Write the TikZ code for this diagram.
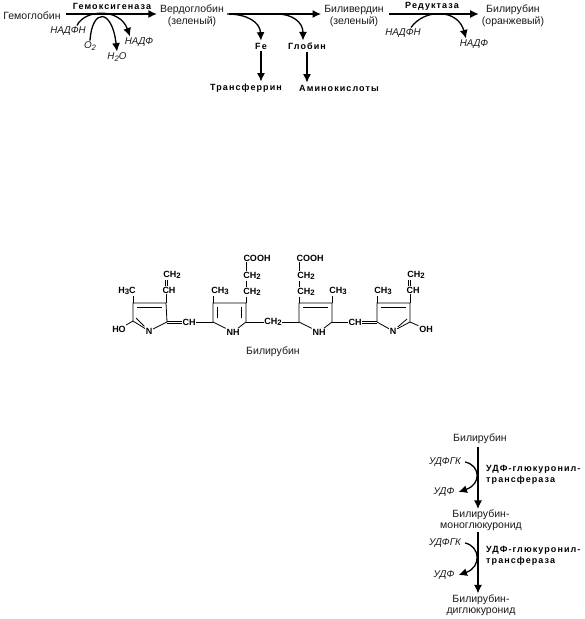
\documentclass[tikz,border=0pt]{standalone}
\usepackage{fontspec}
\setmainfont{Liberation Sans}
\newfontfamily\enzfont[LetterSpace=12]{Liberation Sans Bold}
\usepackage{tikz}
\usetikzlibrary{arrows.meta, positioning}
\definecolor{inkgrey}{RGB}{25, 25, 25}
\newcommand{\lowidx}[1]{\raisebox{-0.3ex}{\fontsize{7.8}{8}\selectfont #1}}

\begin{document}
\begin{tikzpicture}[
    x=1pt, y=-1pt,
    lbl/.style={inner sep=3pt, align=center, text=inkgrey, font=\fontsize{10.5}{12}\selectfont},
    tight/.style={lbl, inner sep=1pt, font=\fontsize{10.5}{10.8}\selectfont},
    cof/.style={inner sep=1pt, text=inkgrey, font=\fontsize{9.8}{11}\selectfont\itshape},
    enz/.style={inner sep=2pt, align=left, text=black, font=\fontsize{9}{11}\enzfont},
    chem/.style={inner sep=0.6pt, text=black, font=\fontsize{9}{9}\selectfont\bfseries},
    arrow/.style={-{Latex[length=8.5pt,width=8pt]}, line width=1.4pt, color=black},
    curve/.style={-{Latex[length=8.5pt,width=8pt]}, line width=1.3pt, color=black},
    bond/.style={line width=0.8pt, color=black},
    innerbond/.style={bond, shorten <=4pt, shorten >=4pt},
]
    \useasboundingbox (0,0) rectangle (585,619);

    % top pathway
    \node[lbl] (hemoglobin) at (32,16) {Гемоглобин};
    \node[lbl] (verdoglobin) at (192,16) {Вердоглобин\\(зеленый)};
    \node[lbl] (biliverdin) at (354,16) {Биливердин\\(зеленый)};
    \node[lbl] (bilirubinTop) at (513,16) {Билирубин\\(оранжевый)};
    \node[enz] (oxygenase) at (112,6) {Гемоксигеназа};
    \node[enz] (reductase) at (432,6) {Редуктаза};
    \node[cof] (nadphA) at (68,31) {НАДФН};
    \node[cof] (oxygen) at (90,46) {O\lowidx{2}};
    \node[cof] (water) at (117,57) {H\lowidx{2}O};
    \node[cof] (nadpA) at (139,42) {НАДФ};
    \node[cof] (nadphB) at (403,33) {НАДФН};
    \node[cof] (nadpB) at (474,44) {НАДФ};
    \node[enz] (iron) at (261,46) {Fe};
    \node[enz] (globin) at (307,46) {Глобин};
    \node[enz] (transferrin) at (246,88) {Трансферрин};
    \node[enz] (aminoacids) at (339,88) {Аминокислоты};

    \draw[arrow, shorten <=2pt] ([yshift=2pt]hemoglobin.east) -- ([yshift=2pt]verdoglobin.west);
    \draw[arrow, shorten <=2pt] ([yshift=2pt]verdoglobin.east) -- ([yshift=2pt]biliverdin.west);
    \draw[arrow, shorten <=2pt] ([yshift=2pt]biliverdin.east) -- ([yshift=2pt]bilirubinTop.west);
    \draw[curve] ([xshift=9pt]nadphA.north) .. controls (85,9) and (120,8) .. ([xshift=-9pt]nadpA.north);
    \draw[curve] (oxygen.north) .. controls (92,8) and (112,8) .. (water.north);
    \draw[curve] ([xshift=8pt]nadphB.north) .. controls (425,8) and (458,9) .. ([xshift=-8pt]nadpB.north);
    \draw[curve] ([yshift=2pt]verdoglobin.east) .. controls (247,14) and (260,22) .. (iron.north);
    \draw[curve] ([yshift=2pt,xshift=50pt]verdoglobin.east) .. controls (292,14) and (303,22) .. ([xshift=-4pt]globin.north);
    \draw[arrow] (iron.south) -- (iron.south |- transferrin.north);
    \draw[arrow] (globin.south) -- (globin.south |- aminoacids.north);

    % bilirubin structure
    \coordinate (aTL) at (133,303); \coordinate (aTR) at (166,303);
    \coordinate (aR) at (167,322);  \coordinate (aL) at (133,321);
    \coordinate (bTL) at (213,303); \coordinate (bTR) at (246,303);
    \coordinate (bR) at (246,322);  \coordinate (bL) at (213,322);
    \coordinate (cTL) at (299,303); \coordinate (cTR) at (332,303);
    \coordinate (cR) at (332,322);  \coordinate (cL) at (299,322);
    \coordinate (dTL) at (377,303); \coordinate (dTR) at (410,303);
    \coordinate (dR) at (410,322);  \coordinate (dL) at (377,322);

    \node[chem] (hoA) at (119,329) {HO};
    \node[chem] (nA) at (149,331) {N};
    \node[chem] (methylA) at (127,291) {H\lowidx{3}C};
    \node[chem] (vinylA) at (169,290) {CH};
    \node[chem] (vinylB) at (172,275) {CH\lowidx{2}};
    \node[chem] (bridgeA) at (189,322) {CH};
    \node[chem] (nhB) at (233,332) {NH};
    \node[chem] (methylB) at (220,291) {CH\lowidx{3}};
    \node[chem] (chainA) at (252,292) {CH\lowidx{2}};
    \node[chem] (chainB) at (252,276) {CH\lowidx{2}};
    \node[chem] (acidA) at (257,258) {COOH};
    \node[chem] (bridgeB) at (273,322) {CH\lowidx{2}};
    \node[chem] (nhC) at (319,332) {NH};
    \node[chem] (chainC) at (306,292) {CH\lowidx{2}};
    \node[chem] (chainD) at (306,276) {CH\lowidx{2}};
    \node[chem] (acidB) at (310,258) {COOH};
    \node[chem] (methylC) at (338,291) {CH\lowidx{3}};
    \node[chem] (bridgeC) at (355,322) {CH};
    \node[chem] (nD) at (393,331) {N};
    \node[chem] (hoD) at (426,329) {OH};
    \node[chem] (methylD) at (383,291) {CH\lowidx{3}};
    \node[chem] (vinylC) at (413,290) {CH};
    \node[chem] (vinylD) at (416,275) {CH\lowidx{2}};
    \node[lbl] (bilirubinName) at (273,352) {Билирубин};

    % rings
    \draw[bond] (aL) -- (aTL) -- (aTR) -- (aR) -- (nA) -- (aL) -- (hoA);
    \draw[bond] (bL) -- (bTL) -- (bTR) -- (bR) -- (nhB) -- (bL);
    \draw[bond] (cL) -- (cTL) -- (cTR) -- (cR) -- (nhC) -- (cL);
    \draw[bond] (dL) -- (dTL) -- (dTR) -- (dR) -- (nD) -- (dL);
    \draw[bond] (dR) -- (hoD);
    \draw[innerbond] ([yshift=-4pt]aTL) -- ([yshift=-4pt]aTR);
    \draw[innerbond] ([yshift=-4pt]cTL) -- ([yshift=-4pt]cTR);
    \draw[innerbond] ([yshift=-4pt]dTL) -- ([yshift=-4pt]dTR);
    \draw[innerbond] ([xshift=4.5pt]bTL) -- ([xshift=4.5pt]bL);
    \draw[innerbond] ([xshift=-4.5pt]bTR) -- ([xshift=-4.5pt]bR);
    \draw[bond, shorten >=1pt] ([xshift=3pt,yshift=3pt]aL) -- ([xshift=-1pt,yshift=5pt]nA);
    \draw[bond, shorten >=1pt] ([xshift=-3pt,yshift=3pt]dR) -- ([xshift=1pt,yshift=5pt]nD);

    % substituents
    \draw[bond] (aTL) -- (aTL |- methylA.south);
    \draw[bond] (aTR) -- (aTR |- vinylA.south);
    \draw[bond] ([xshift=-4pt]vinylA.north) -- ([xshift=-4pt]vinylA.north |- vinylB.south);
    \draw[bond] ([xshift=-1.7pt]vinylA.north) -- ([xshift=-1.7pt]vinylA.north |- vinylB.south);
    \draw[bond] ([yshift=1.1pt]aR) -- ([yshift=1.1pt]bridgeA.west |- aR);
    \draw[bond] ([yshift=-1.1pt]aR) -- ([yshift=-1.1pt]bridgeA.west |- aR);
    \draw[bond] (bridgeA) -- (bL);
    \draw[bond] (bTL) -- (bTL |- methylB.south);
    \draw[bond] (bTR) -- (bTR |- chainA.south);
    \draw[bond] (bTR |- chainA.north) -- (bTR |- chainB.south);
    \draw[bond] (bTR |- chainB.north) -- (bTR |- acidA.south);
    \draw[bond] (bR) -- (bridgeB);
    \draw[bond] (bridgeB) -- (cL);
    \draw[bond] (cTL) -- (cTL |- chainC.south);
    \draw[bond] (cTL |- chainC.north) -- (cTL |- chainD.south);
    \draw[bond] (cTL |- chainD.north) -- (cTL |- acidB.south);
    \draw[bond] (cTR) -- (cTR |- methylC.south);
    \draw[bond] (cR) -- (bridgeC);
    \draw[bond] ([yshift=1.1pt]bridgeC.east |- dL) -- ([yshift=1.1pt]dL);
    \draw[bond] ([yshift=-1.1pt]bridgeC.east |- dL) -- ([yshift=-1.1pt]dL);
    \draw[bond] (dTL) -- (dTL |- methylD.south);
    \draw[bond] (dTR) -- (dTR |- vinylC.south);
    \draw[bond] ([xshift=-4.7pt]vinylC.north) -- ([xshift=-4.7pt]vinylC.north |- vinylD.south);
    \draw[bond] ([xshift=-2.3pt]vinylC.north) -- ([xshift=-2.3pt]vinylC.north |- vinylD.south);

    % conjugation
    \node[lbl] (bilirubinLow) at (480,439) {Билирубин};
    \node[tight] (mono) at (481,520.5) {Билирубин-\\моноглюкуронид};
    \node[tight] (di) at (481,605) {Билирубин-\\диглюкуронид};
    \node[cof] (udpgkA) at (445,462) {УДФГК};
    \node[cof] (udpA) at (444,492) {УДФ};
    \node[cof] (udpgkB) at (445,543) {УДФГК};
    \node[cof] (udpB) at (444,575) {УДФ};
    \node[enz, anchor=west] (transferaseA) at (484,474.5) {УДФ-глюкуронил-\\трансфераза};
    \node[enz, anchor=west] (transferaseB) at (484,555.5) {УДФ-глюкуронил-\\трансфераза};

    \draw[arrow] ([xshift=-2pt]bilirubinLow.south) -- ([xshift=-3pt]mono.north);
    \draw[arrow] ([xshift=-3pt]mono.south) -- ([xshift=-3pt]di.north);
    \draw[curve] ([xshift=3pt]udpgkA.east) .. controls (480,465) and (482,484) .. ([xshift=3pt]udpA.east);
    \draw[curve] ([xshift=3pt]udpgkB.east) .. controls (480,546) and (482,567) .. ([xshift=3pt]udpB.east);
\end{tikzpicture}
\end{document}
